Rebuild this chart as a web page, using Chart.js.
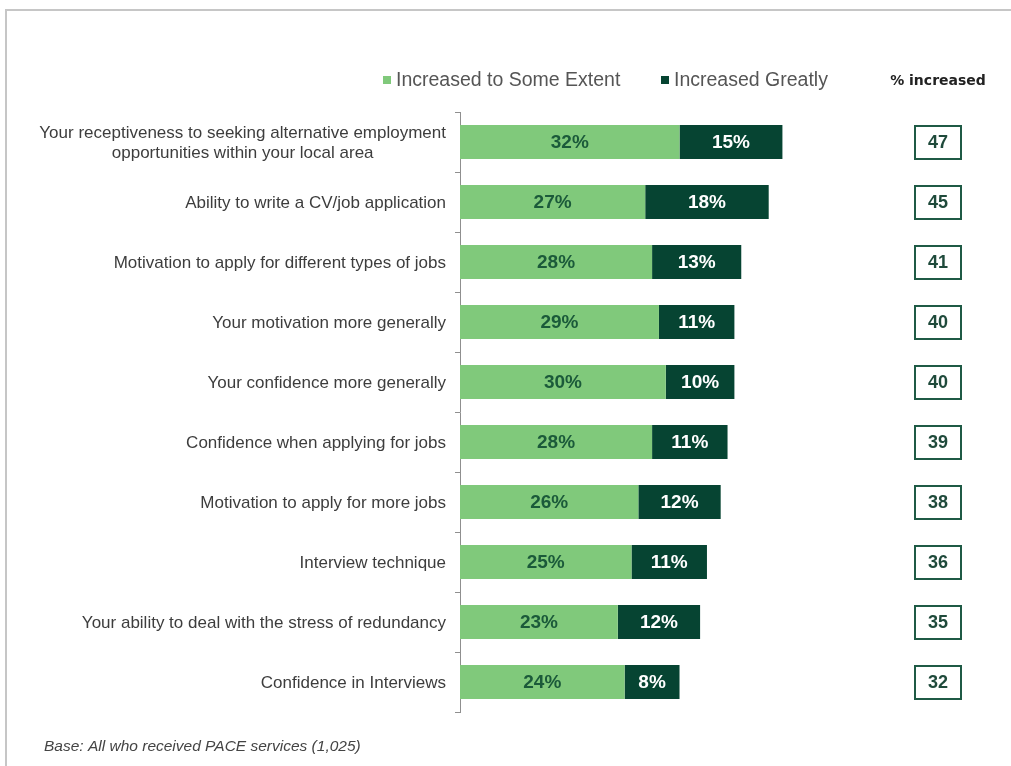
<!DOCTYPE html>
<html lang="en">
<head>
<meta charset="UTF-8">
<title>Impact of PACE services</title>
<style>
  html, body { margin: 0; padding: 0; background: #fff; overflow: hidden; }
  .frame {
    position: absolute; left: 5px; top: 9px; width: 1200px; height: 900px;
    border-left: 2px solid #c6c6c6; border-top: 2px solid #c6c6c6;
  }
  .wrap { position: absolute; left: 0; top: 0; width: 1011px; height: 766px; }
</style>
</head>
<body>
<div class="frame"></div>
<div class="wrap"><canvas id="chart" width="1011" height="766"></canvas></div>
<script src="https://cdn.jsdelivr.net/npm/chart.js"></script>
<script>
const categories = [
  ['Your receptiveness to seeking alternative employment', 'opportunities within your local area'],
  'Ability to write a CV/job application',
  'Motivation to apply for different types of jobs',
  'Your motivation more generally',
  'Your confidence more generally',
  'Confidence when applying for jobs',
  'Motivation to apply for more jobs',
  'Interview technique',
  'Your ability to deal with the stress of redundancy',
  'Confidence in Interviews'
];
const seriesNames = ['Increased to Some Extent', 'Increased Greatly'];
const someExtent = [32, 27, 28, 29, 30, 28, 26, 25, 23, 24];
const greatly = [15, 18, 13, 11, 10, 11, 12, 11, 12, 8];
const totals = [47, 45, 41, 40, 40, 39, 38, 36, 35, 32];
const totalsHeader = '% increased';
const baseNote = 'Base: All who received PACE services (1,025)';

const LIGHT = '#80c97b';
const DARK = '#064432';
const SANS = '"Liberation Sans", Arial, sans-serif';

// labels, legend, totals column and base note
const overlay = {
  id: 'overlay',
  afterDatasetsDraw(chart) {
    const ctx = chart.ctx;
    ctx.save();
    ctx.font = 'bold 19px ' + SANS;
    ctx.textAlign = 'center';
    ctx.textBaseline = 'middle';
    chart.data.datasets.forEach((ds, di) => {
      ctx.fillStyle = di === 0 ? '#1b5a3a' : '#ffffff';
      chart.getDatasetMeta(di).data.forEach((bar, i) => {
        ctx.fillText(ds.data[i] + '%', (bar.x + bar.base) / 2, bar.y + 1);
      });
    });
    ctx.restore();
  },
  afterDraw(chart) {
    const { ctx, chartArea, scales: { y } } = chart;
    ctx.save();
    ctx.textBaseline = 'middle';

    // category labels: right edge fixed, multi-line labels centred on each other
    ctx.font = '17px ' + SANS;
    ctx.fillStyle = '#3d3d3d';
    ctx.textAlign = 'center';
    const right = chartArea.left - 14;
    categories.forEach((cat, i) => {
      const lines = Array.isArray(cat) ? cat : [cat];
      const w = Math.max(...lines.map(l => ctx.measureText(l).width));
      const cy = y.getPixelForValue(i);
      const lh = 20;
      lines.forEach((l, k) => {
        ctx.fillText(l, right - w / 2, cy + (k - (lines.length - 1) / 2) * lh + 1);
      });
    });

    // legend
    ctx.font = '19.5px ' + SANS;
    ctx.textAlign = 'left';
    const legendX = [383, 661];
    seriesNames.forEach((name, i) => {
      ctx.fillStyle = chart.data.datasets[i].backgroundColor;
      ctx.fillRect(legendX[i], 76, 8, 8);
      ctx.fillStyle = '#555555';
      ctx.fillText(name, legendX[i] + 13, 81);
    });

    // totals column
    ctx.font = 'bold 14px "DejaVu Sans", sans-serif';
    ctx.fillStyle = '#222222';
    ctx.textAlign = 'center';
    ctx.fillText(totalsHeader, 938, 81);

    ctx.font = 'bold 18px ' + SANS;
    ctx.lineWidth = 2;
    totals.forEach((t, i) => {
      const cy = y.getPixelForValue(i);
      ctx.strokeStyle = '#1f5a45';
      ctx.strokeRect(915, cy - 16, 46, 33);
      ctx.fillStyle = '#1f4a3b';
      ctx.fillText(String(t), 938, cy + 1);
    });

    // base note
    ctx.font = 'italic 15.5px ' + SANS;
    ctx.fillStyle = '#444444';
    ctx.textAlign = 'left';
    ctx.fillText(baseNote, 44, 747);
    ctx.restore();
  }
};

new Chart(document.getElementById('chart'), {
  type: 'bar',
  data: {
    labels: categories,
    datasets: [
      { label: seriesNames[0], data: someExtent, backgroundColor: LIGHT },
      { label: seriesNames[1], data: greatly, backgroundColor: DARK }
    ]
  },
  options: {
    indexAxis: 'y',
    responsive: false,
    animation: false,
    barPercentage: 1,
    categoryPercentage: 34 / 60,
    layout: { padding: { left: 0, top: 112, right: 208, bottom: 54 } },
    plugins: { legend: { display: false }, tooltip: { enabled: false } },
    scales: {
      x: { stacked: true, min: 0, max: 50, display: false },
      y: {
        stacked: true,
        grid: { offset: true, drawOnChartArea: false, tickLength: 5, color: '#8f8f8f' },
        border: { color: '#8f8f8f', width: 1 },
        ticks: { display: false },
        afterFit(scale) { scale.width = 460; }
      }
    }
  },
  plugins: [overlay]
});
</script>
</body>
</html>
